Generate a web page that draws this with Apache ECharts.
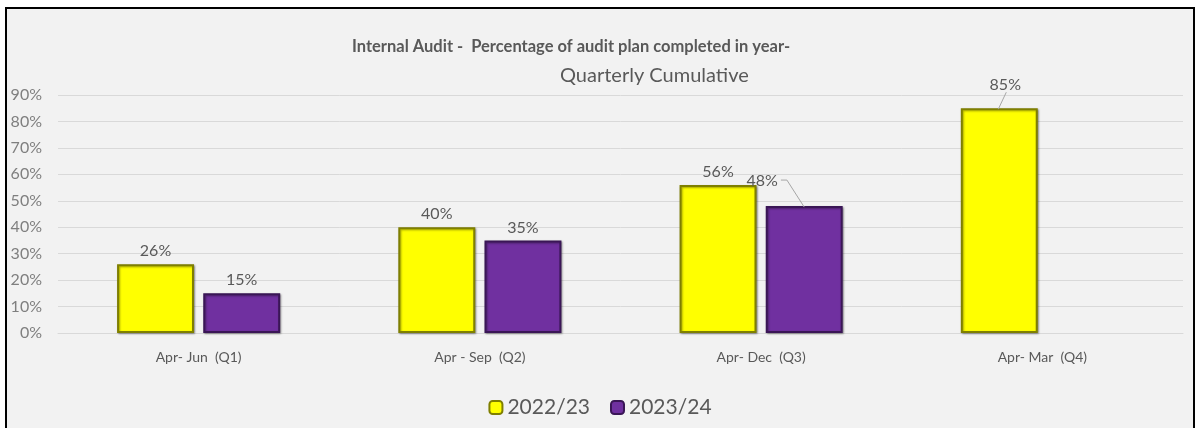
<!DOCTYPE html>
<html>
<head>
<meta charset="utf-8">
<script src="https://cdn.jsdelivr.net/npm/echarts@6/dist/echarts.min.js"></script>
<style>
  body { margin: 0; background: #fff; }
  #frame { position: absolute; left: 5px; top: 7px; width: 1186px; height: 430px;
           border: 2px solid #000; background: #f2f2f2; }
  #main { width: 1186px; height: 430px; }
</style>
</head>
<body>
<div id="frame"><div id="main"></div></div>
<script>
var quarters = ['Apr- Jun  (Q1)', 'Apr - Sep  (Q2)', 'Apr- Dec  (Q3)', 'Apr- Mar  (Q4)'];
var fy2223 = [26, 40, 56, 85];
var fy2324 = [15, 35, 48, null];
var yTicks = [0, 10, 20, 30, 40, 50, 60, 70, 80, 90];

var font = 'Lato, "Open Sans", sans-serif';
var chart = echarts.init(document.getElementById('main'));

// labels that Excel pulled away from the bar, with a leader line
var moved = {
  '2022/23': { 3: { dx: 6, dy: -10, side: 'bottom' } },
  '2023/24': { 2: { dx: -42, dy: -12, side: 'right' } }
};
var leaders = {};

function layoutFor(name) {
  return function (p) {
    var m = moved[name][p.dataIndex];
    if (!m) return {};
    var r = p.rect, l = p.labelRect;
    var lx = l.x + m.dx, ly = l.y + m.dy;
    var barTop = [r.x + r.width / 2, Math.min(r.y, r.y + r.height) + 1];
    var pts;
    if (m.side === 'right') {
      var sx = lx + l.width + 3, sy = ly + l.height / 2 - 1;
      pts = [[sx, sy], [sx + 6, sy], barTop];
    } else {
      var bx = lx + l.width / 2 + 1, by = ly + l.height - 1;
      pts = [[bx, by], [barTop[0] - 1, barTop[1]]];
    }
    leaders[name + p.dataIndex] = pts;
    return { dx: m.dx, dy: m.dy };
  };
}

var barShadow = { shadowColor: 'rgba(0,0,0,0.35)', shadowBlur: 2, shadowOffsetX: 1, shadowOffsetY: 1 };

var option = {
  backgroundColor: '#f2f2f2',
  textStyle: { fontFamily: font },
  title: [{
    text: 'Internal Audit -  Percentage of audit plan completed in year-',
    left: 340, top: 24,
    textStyle: { fontSize: 16.5, fontWeight: 'bold', color: '#595959', fontFamily: font }
  }, {
    text: 'Quarterly Cumulative',
    left: 548, top: 52,
    textStyle: { fontSize: 20, fontWeight: 'normal', color: '#595959', fontFamily: font }
  }],
  legend: {
    bottom: 16, left: 'center',
    itemWidth: 13, itemHeight: 13, itemGap: 20,
    textStyle: { fontSize: 21, color: '#595959', fontFamily: font },
    data: ['2022/23', '2023/24']
  },
  grid: { left: 51, right: 10, top: 86, height: 238 },
  xAxis: {
    type: 'category',
    data: quarters,
    axisLine: { lineStyle: { color: '#d9d9d9' } },
    axisTick: { show: false },
    axisLabel: { color: '#595959', fontSize: 14, margin: 17 }
  },
  yAxis: {
    type: 'value', min: yTicks[0], max: yTicks[yTicks.length - 1], interval: 10,
    axisLine: { show: false },
    axisTick: { show: false },
    splitLine: { lineStyle: { color: '#d9d9d9' } },
    axisLabel: { color: '#7f7f7f', fontSize: 16, align: 'right', margin: 16,
                 formatter: function (v) { return v + '%'; } }
  },
  series: [{
    name: '2022/23',
    type: 'bar',
    data: fy2223,
    barGap: '12%',
    barCategoryGap: '42%',
    itemStyle: Object.assign({ color: '#ffff00', borderColor: '#7f7f00', borderWidth: 2 }, barShadow),
    label: { show: true, position: 'top', distance: 5, color: '#595959', fontSize: 16,
             formatter: '{c}%' },
    labelLayout: layoutFor('2022/23')
  }, {
    name: '2023/24',
    type: 'bar',
    data: fy2324,
    itemStyle: Object.assign({ color: '#7030a0', borderColor: '#3a1656', borderWidth: 2 }, barShadow),
    label: { show: true, position: 'top', distance: 5, color: '#595959', fontSize: 16,
             formatter: '{c}%' },
    labelLayout: layoutFor('2023/24')
  }]
};
chart.setOption(option);

// leader lines from the moved labels to their bars
var drawn = false;
chart.on('finished', function () {
  if (drawn) return;
  drawn = true;
  var lines = Object.keys(leaders).map(function (k) {
    return { type: 'polyline', silent: true, z: 10,
             shape: { points: leaders[k] },
             style: { stroke: '#a6a6a6', lineWidth: 1, fill: null } };
  });
  chart.setOption({ graphic: lines });
});
</script>
</body>
</html>
